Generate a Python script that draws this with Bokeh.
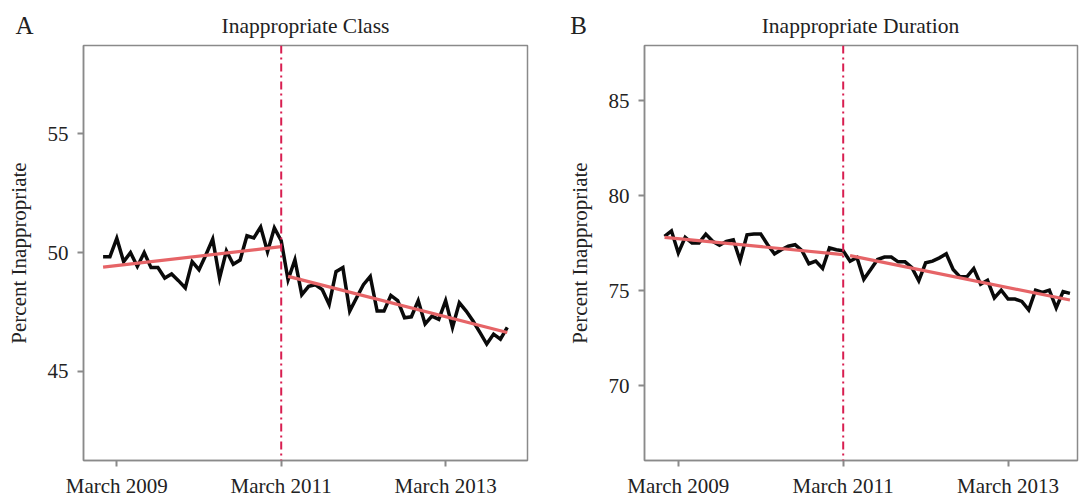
from bokeh.plotting import figure
from bokeh.layouts import row, column
from bokeh.models import Span, FixedTicker, ColumnDataSource
from bokeh.core.properties import value
from bokeh.embed import file_html
from bokeh.resources import INLINE
import pandas as pd

# ---- data (monthly, January 2009 .. December 2013) ----
months = list(pd.date_range("2009-01-01", periods=60, freq="MS").strftime("%Y-%m"))
month_idx = list(range(len(months)))

class_pct = [49.83, 49.83, 50.60, 49.62, 50.00, 49.42, 50.00, 49.37, 49.37, 48.93,
             49.10, 48.82, 48.51, 49.62, 49.28, 49.90, 50.57, 48.93, 50.07, 49.51,
             49.69, 50.71, 50.62, 51.08, 50.04, 51.04, 50.50, 48.86, 49.70, 48.23,
             48.58, 48.65, 48.44, 47.82, 49.20, 49.37, 47.54, 48.10, 48.65, 49.00,
             47.54, 47.54, 48.20, 47.98, 47.26, 47.30, 47.98, 47.00, 47.33, 47.19,
             47.98, 46.85, 47.89, 47.54, 47.12, 46.64, 46.15, 46.57, 46.36, 46.85]

duration_pct = [77.86, 78.15, 76.99, 77.81, 77.51, 77.51, 77.98, 77.60, 77.39, 77.60,
                77.68, 76.59, 77.94, 77.98, 77.98, 77.42, 76.94, 77.16, 77.34, 77.42,
                77.11, 76.42, 76.56, 76.17, 77.25, 77.16, 77.10, 76.55, 76.75, 75.60,
                76.12, 76.64, 76.77, 76.77, 76.52, 76.52, 76.21, 75.52, 76.47, 76.56,
                76.73, 76.94, 76.12, 75.73, 75.73, 76.17, 75.34, 75.55, 74.62, 75.03,
                74.56, 74.56, 74.44, 73.99, 75.03, 74.91, 75.03, 74.10, 74.96, 74.86]

# segmented trend lines: (start index, end index) and (start value, end value)
class_pre_x, class_pre_y = [0, 26], [49.39, 50.25]
class_post_x, class_post_y = [27, 59], [49.00, 46.64]
dur_pre_x, dur_pre_y = [0, 26], [77.81, 76.90]
dur_post_x, dur_post_y = [27, 59], [76.85, 74.51]

intervention_idx = 26
tick_idx = [2, 26, 50]
tick_labels = ["March 2009", "March 2011", "March 2013"]

panel_letters = ["A", "B"]
panel_titles = ["Inappropriate Class", "Inappropriate Duration"]

FONT = "Liberation Serif"
GREY = "#8a8a8a"
TEXT = "#222222"
BLACK_LINE = "#0a0a0a"
FIT_RED = "#e66467"
DASH_RED = "#d81e50"
HEAD_H = 40
PANEL_H = 460


def make_panel(y, pre_x, pre_y, post_x, post_y, xr, yr, yticks, width, bl, br):
    p = figure(width=width, height=PANEL_H, x_range=xr, y_range=yr,
               output_backend="svg", toolbar_location=None,
               min_border_left=bl, min_border_right=br,
               min_border_top=5, min_border_bottom=35)
    p.title.visible = False
    p.xgrid.visible = False
    p.ygrid.visible = False
    p.background_fill_color = "white"
    p.border_fill_color = "white"
    p.outline_line_color = GREY
    p.outline_line_width = 1.5

    for ax in (p.xaxis[0], p.yaxis[0]):
        ax.axis_line_color = GREY
        ax.axis_line_width = 1.5
        ax.major_tick_line_color = GREY
        ax.major_tick_line_width = 2
        ax.major_tick_in = 0
        ax.major_tick_out = 6
        ax.minor_tick_line_color = None
        ax.major_label_text_font = FONT
        ax.major_label_text_font_size = "21px"
        ax.major_label_text_color = TEXT
        ax.axis_label_text_font = FONT
        ax.axis_label_text_font_style = "normal"
        ax.axis_label_text_color = TEXT

    p.xaxis.ticker = FixedTicker(ticks=tick_idx)
    p.xaxis.major_label_overrides = {t: l for t, l in zip(tick_idx, tick_labels)}
    p.xaxis.major_label_standoff = 7
    p.yaxis.ticker = FixedTicker(ticks=yticks)
    p.yaxis.major_label_standoff = 9
    p.yaxis.axis_label = "Percent Inappropriate"
    p.yaxis.axis_label_text_font_size = "21px"
    p.yaxis.axis_label_standoff = 14

    p.add_layout(Span(location=intervention_idx, dimension="height",
                      line_color=DASH_RED, line_width=2, line_dash="8 4 2 4"))

    src = ColumnDataSource(dict(x=month_idx, y=y, month=months))
    p.line("x", "y", source=src, line_color=BLACK_LINE, line_width=3.5,
           line_join="miter")
    p.line(pre_x, pre_y, line_color=FIT_RED, line_width=3.2)
    p.line(post_x, post_y, line_color=FIT_RED, line_width=3.2)
    return p


pA = make_panel(class_pct, class_pre_x, class_pre_y, class_post_x, class_post_y,
                (-2.86, 61.95), (41.25, 58.72), [45, 50, 55], 560, 83, 33)
pB = make_panel(duration_pct, dur_pre_x, dur_pre_y, dur_post_x, dur_post_y,
                (-2.92, 60.1), (66.07, 87.9), [70, 75, 80, 85], 519, 84, 2)

# header strip carrying panel letters and panel titles
head = figure(width=1079, height=HEAD_H, x_range=(0, 1079), y_range=(0, HEAD_H),
              output_backend="svg", toolbar_location=None, min_border=0)
head.axis.visible = False
head.grid.visible = False
head.outline_line_color = None
head.title.visible = False
head.text(x=[24, 578], y=[15, 15], text=panel_letters,
          text_font=value(FONT), text_font_size=value("25px"),
          text_color=TEXT, text_align="center", text_baseline="middle")
head.text(x=[305, 860], y=[15, 15], text=panel_titles,
          text_font=value(FONT), text_font_size=value("21.5px"),
          text_color=TEXT, text_align="center", text_baseline="middle")

layout = column(head, row(pA, pB))
open("out.html", "w").write(file_html(layout, INLINE))
